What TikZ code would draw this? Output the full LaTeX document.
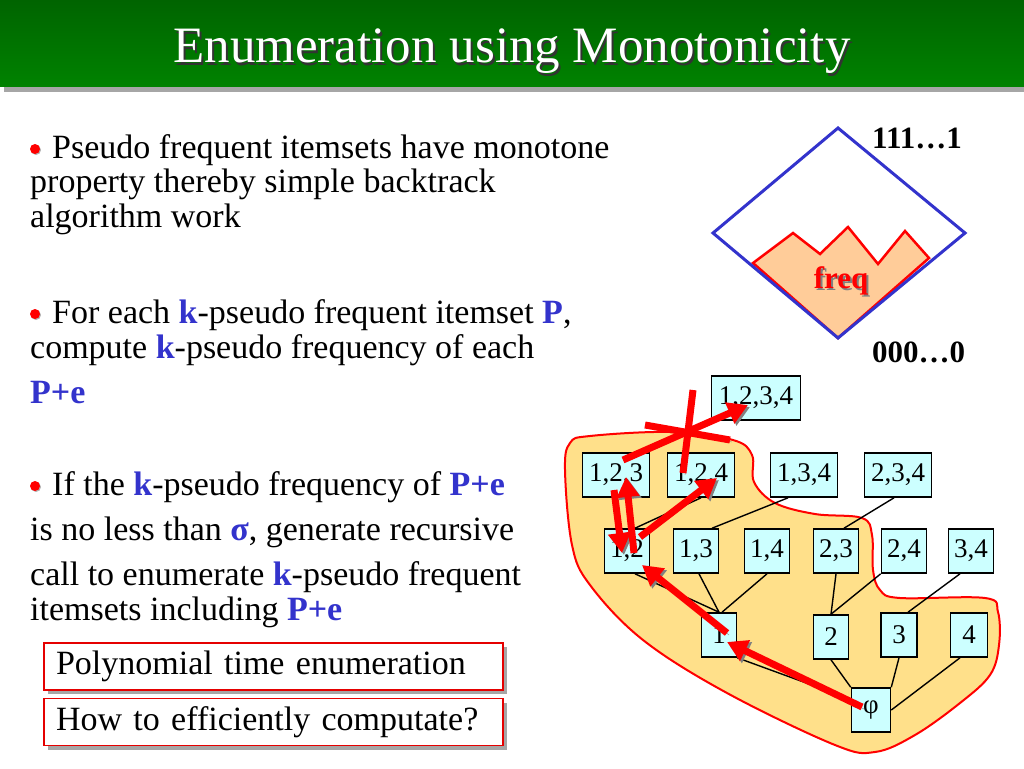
\documentclass[tikz,border=0pt]{standalone}
\usepackage{fontspec}
\setmainfont{Liberation Serif}
\usetikzlibrary{arrows.meta}
\definecolor{titletop}{HTML}{006400}
\definecolor{titlebottom}{HTML}{008200}
\definecolor{setcyan}{HTML}{CCFFFF}
\definecolor{blobyellow}{HTML}{FFE08A}
\definecolor{peach}{HTML}{FFCC99}
\definecolor{kblue}{HTML}{3333CC}
\newcommand{\kwd}[1]{\textcolor{kblue}{\bfseries #1}}

\begin{document}
\begin{tikzpicture}[x=1pt,y=-1pt]
    \tikzstyle{itemset}=[draw=black,line width=1.6,fill=setcyan,inner sep=0pt,minimum height=44,font=\fontsize{27}{27}\selectfont]
    \tikzstyle{tree}=[draw=black,line width=1.4]
    \tikzstyle{walk}=[draw=red,line width=7,-{Triangle[width=22pt,length=20pt]},preaction={draw=gray,transform canvas={shift={(2pt,-2pt)}}}]
    \tikzstyle{bar}=[draw=red,line width=7,preaction={draw=gray,transform canvas={shift={(2pt,-2pt)}}}]
    \tikzstyle{bodytext}=[anchor=base west,inner sep=0pt,font=\fontsize{34}{34}\selectfont]
    \tikzstyle{bullet}=[circle,fill=red,inner sep=0pt,minimum size=10,preaction={fill=gray!60,transform canvas={shift={(1pt,-1pt)}}}]
    \tikzstyle{note}=[draw=red!90!black,line width=1.5,fill=white,minimum width=459,minimum height=47,inner xsep=12,text width=435,align=left,font=\fontsize{34}{34}\selectfont,preaction={fill=gray!70,transform canvas={shift={(4pt,-4pt)}}}]
    \useasboundingbox (0,0) rectangle (1024,768);

    % title bar
    \fill[gray!70] (4,86) rectangle (1024,92);
    \shade[top color=titletop,bottom color=titlebottom] (0,0) rectangle (1024,86);
    \node (titleshadow) [anchor=base,text=black!80,font=\fontsize{51}{51}\selectfont] at (514,65) {Enumeration using Monotonicity};
    \node (title) [anchor=base,text=white,font=\fontsize{51}{51}\selectfont] at (512,63) {Enumeration using Monotonicity};

    % bullets
    \node (b1) [bullet] at (35,149) {};
    \node (t1a) [bodytext] at (52,158) {Pseudo frequent itemsets have monotone};
    \node (t1b) [bodytext] at (30,192) {property thereby simple backtrack};
    \node (t1c) [bodytext] at (30,227) {algorithm work};
    \node (b2) [bullet] at (35,314) {};
    \node (t2a) [bodytext] at (52,323) {For each \kwd{k}-pseudo frequent itemset \kwd{P},};
    \node (t2b) [bodytext] at (30,358) {compute \kwd{k}-pseudo frequency of each};
    \node (t2c) [bodytext] at (30,403) {\kwd{P+e}};
    \node (b3) [bullet] at (35,486) {};
    \node (t3a) [bodytext] at (52,495) {If the \kwd{k}-pseudo frequency of \kwd{P+e}};
    \node (t3b) [bodytext] at (30,540) {is no less than \kwd{σ}, generate recursive};
    \node (t3c) [bodytext] at (30,585) {call to enumerate \kwd{k}-pseudo frequent};
    \node (t3d) [bodytext] at (30,620) {itemsets including \kwd{P+e}};

    \node (poly) [note] at (273.5,666.5) {Polynomial time enumeration};
    \node (how) [note] at (273.5,722) {How to efficiently computate?};

    % diamond
    \filldraw[draw=red,fill=peach,line width=2.5] (753,263) -- (793,233) -- (820,254) -- (848,227) -- (878,264) -- (905,231) -- (929,258) -- (838,338) -- cycle;
    \draw[draw=kblue,line width=3] (838,128) -- (965,233) -- (838,338) -- (713,233) -- cycle;
    \node (freqshadow) [anchor=base,text=gray,font=\fontsize{31}{31}\selectfont\bfseries] at (843,290) {freq};
    \node (freq) [anchor=base,text=red,font=\fontsize{31}{31}\selectfont\bfseries] at (841,288) {freq};
    \node (top) [anchor=base west,inner sep=0pt,font=\fontsize{31}{31}\selectfont\bfseries] at (872,148) {111…1};
    \node (bottom) [anchor=base west,inner sep=0pt,font=\fontsize{31}{31}\selectfont\bfseries] at (872,362) {000…0};

    % region of frequent sets
    \filldraw[draw=red,fill=blobyellow,line width=2] plot[smooth cycle,tension=0.6] coordinates {
        (570,443) (590,436) (670,432) (733,440) (752,455) (754,482) (775,503) (815,514) (862,518)
        (872,535) (873,570) (880,590) (900,598) (985,598) (998,612) (999,645) (990,675) (960,703)
        (915,735) (875,752) (835,745) (727,693) (643,640) (590,585) (572,545) (565,470)};

    % lattice
    \node (n1234)[itemset,minimum width=89] at (756,398) {1,2,3,4};
    \node (n123)[itemset,minimum width=67] at (616,475) {1,2,3};
    \node (n124)[itemset,minimum width=67] at (701,475) {1,2,4};
    \node (n134)[itemset,minimum width=67] at (804,475) {1,3,4};
    \node (n234)[itemset,minimum width=67] at (898,475) {2,3,4};
    \node (n12)[itemset,minimum width=45] at (627,551) {1,2};
    \node (n13)[itemset,minimum width=45] at (696,551) {1,3};
    \node (n14)[itemset,minimum width=45] at (767,551) {1,4};
    \node (n23)[itemset,minimum width=45] at (836,551) {2,3};
    \node (n24)[itemset,minimum width=45] at (904,551) {2,4};
    \node (n34)[itemset,minimum width=45] at (971,551) {3,4};
    \node (n1)[itemset,minimum width=35] at (719,635) {1};
    \node (n2)[itemset,minimum width=35] at (831,637) {2};
    \node (n3)[itemset,minimum width=36] at (899,635) {3};
    \node (n4)[itemset,minimum width=37] at (969,635) {4};
    \node (phi)[itemset,minimum width=39] at (871,710) {φ};

    \draw[tree] ([xshift=8]n12.north) -- (n124.south);
    \draw[tree] ([xshift=-16]n134.south) -- ([xshift=16]n13.north);
    \draw[tree] ([xshift=-4]n234.south) -- ([xshift=8]n23.north);
    \draw[tree] ([xshift=8]n12.south) -- (n1.north);
    \draw[tree] ([xshift=3]n13.south) -- (n1.north);
    \draw[tree] (n14.south) -- ([xshift=3]n1.north);
    \draw[tree] (n23.south) -- (n2.north);
    \draw[tree] (n24.south west) -- (n2.north);
    \draw[tree] ([xshift=-11]n34.south) -- ([xshift=9]n3.north);
    \draw[tree] (n1.south east) -- (phi.152);
    \draw[tree] (n2.south) -- (phi.north west);
    \draw[tree] (n3.south) -- (phi.north east);
    \draw[tree] ([xshift=-9]n4.south) -- (phi.east);

    % backtrack walk
    \draw[walk] ([shift={(-9,-3)}]phi.center) -- ([shift={(8,7)}]n1.center);
    \draw[walk] ([shift={(8,-2)}]n1.center) -- ([shift={(15,14)}]n12.center);
    \draw[walk] ([shift={(13,-14)}]n12.center) -- ([shift={(16,3)}]n124.center);
    \draw[walk] ([shift={(-2,15)}]n123.center) -- ([shift={(-5,2)}]n12.center);
    \draw[walk] ([shift={(7,2)}]n12.center) -- ([shift={(10,2)}]n123.center);
    \draw[walk] ([shift={(7,-15)}]n123.center) -- ([shift={(-8,7)}]n1234.center);
    \draw[bar] (693,390) -- (683,473);
    \draw[bar] (645,425) -- (730,440);
\end{tikzpicture}
\end{document}
